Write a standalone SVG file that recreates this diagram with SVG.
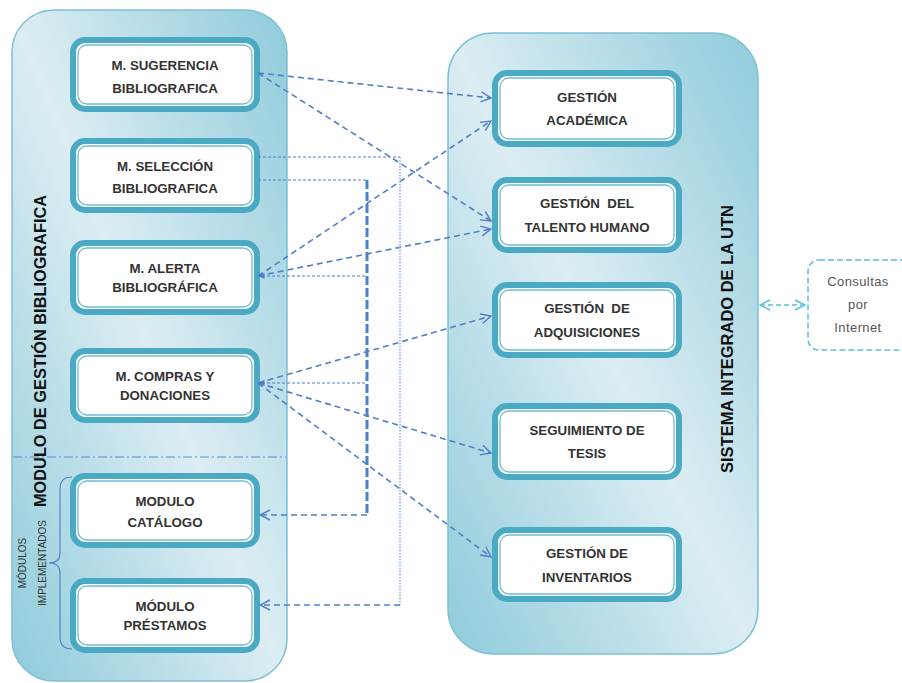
<svg xmlns="http://www.w3.org/2000/svg" width="902" height="683" viewBox="0 0 902 683">
<defs>
<linearGradient id="gc" x1="0" y1="1" x2="1" y2="0">
<stop offset="0" stop-color="#8fcbdb"/>
<stop offset="0.5" stop-color="#dcedf3"/>
<stop offset="1" stop-color="#8fcbdb"/>
</linearGradient>
<marker id="ab" viewBox="0 0 12 12" refX="11" refY="6" markerWidth="12" markerHeight="12" markerUnits="userSpaceOnUse" orient="auto">
<path d="M1,1 L11,6 L1,11" fill="none" stroke="#4f7fc9" stroke-width="1.4"/>
</marker>
<marker id="at" viewBox="0 0 12 12" refX="11" refY="6" markerWidth="12" markerHeight="12" markerUnits="userSpaceOnUse" orient="auto-start-reverse">
<path d="M1,1 L11,6 L1,11" fill="none" stroke="#5bbfd8" stroke-width="1.4"/>
</marker>
<marker id="as" viewBox="0 0 6 6" refX="5.5" refY="3" markerWidth="6" markerHeight="6" markerUnits="userSpaceOnUse" orient="auto">
<path d="M0,0 L6,3 L0,6 Z" fill="#4f7fc9"/>
</marker>
</defs>
<style>
.cont{fill:url(#gc);stroke:#7fc0d3;stroke-width:1.5}
.o{fill:#ffffff;stroke:#4aaac4;stroke-width:6}
.i{fill:#ffffff;stroke:#6fbcd2;stroke-width:1.3}
.t{font-family:"Liberation Sans",Arial,sans-serif;font-weight:bold;font-size:13.3px;fill:#333333;text-anchor:middle}
.v{font-family:"Liberation Sans",Arial,sans-serif;font-weight:bold;font-size:16px;fill:#111;text-anchor:middle}
.s{font-family:"Liberation Sans",Arial,sans-serif;font-size:10px;fill:#333;text-anchor:middle}
.c{font-family:"Liberation Sans",Arial,sans-serif;font-size:13px;letter-spacing:0.4px;fill:#555;text-anchor:middle}
.d{fill:none;stroke:#4f7fc9;stroke-width:1.6;stroke-dasharray:6 4}
.h{fill:none;stroke:#4f7fc9;stroke-width:1.1;stroke-dasharray:3 2}
</style>

<g id="cont-left">
<rect class="cont" x="12" y="10" width="275" height="671" rx="42"/>
<line x1="13" y1="457" x2="286" y2="457" stroke="#5b8bd0" stroke-width="1.2" stroke-dasharray="9 3 2 3"/>
<text class="v" transform="translate(46,351) rotate(-90)" textLength="312" lengthAdjust="spacingAndGlyphs">MODULO DE GESTIÓN BIBLIOGRAFICA</text>
<path d="M72,477 Q60,477 60,489 L60,553 Q60,563 49,563 Q60,563 60,573 L60,637 Q60,649 72,649" fill="none" stroke="#4f7fc9" stroke-width="1.1"/>
<text class="s" transform="translate(25.5,563) rotate(-90)">MÓDULOS</text>
<text class="s" transform="translate(45.5,563) rotate(-90)">IMPLEMENTADOS</text>
</g>

<g id="cont-right">
<rect class="cont" x="448" y="33" width="310" height="621" rx="45"/>
<text class="v" transform="translate(733,339) rotate(-90)" textLength="268" lengthAdjust="spacingAndGlyphs">SISTEMA INTEGRADO DE LA UTN</text>
</g>

<g id="n-sugerencia">
<rect class="o" x="73" y="40" width="184" height="69" rx="12"/>
<rect class="i" x="78" y="45" width="174" height="59" rx="9"/>
<text class="t" x="165" y="70">M. SUGERENCIA</text>
<text class="t" x="165" y="93">BIBLIOGRAFICA</text>
</g>
<g id="n-seleccion">
<rect class="o" x="73" y="141" width="184" height="69" rx="12"/>
<rect class="i" x="78" y="146" width="174" height="59" rx="9"/>
<text class="t" x="165" y="171">M. SELECCIÓN</text>
<text class="t" x="165" y="193">BIBLIOGRAFICA</text>
</g>
<g id="n-alerta">
<rect class="o" x="73" y="243" width="184" height="69" rx="12"/>
<rect class="i" x="78" y="248" width="174" height="59" rx="9"/>
<text class="t" x="165" y="273">M. ALERTA</text>
<text class="t" x="165" y="292">BIBLIOGRÁFICA</text>
</g>
<g id="n-compras">
<rect class="o" x="73" y="351" width="184" height="69" rx="12"/>
<rect class="i" x="78" y="356" width="174" height="59" rx="9"/>
<text class="t" x="165" y="381">M. COMPRAS Y</text>
<text class="t" x="165" y="400">DONACIONES</text>
</g>
<g id="n-catalogo">
<rect class="o" x="73" y="476" width="184" height="69" rx="12"/>
<rect class="i" x="78" y="481" width="174" height="59" rx="9"/>
<text class="t" x="165" y="506">MODULO</text>
<text class="t" x="165" y="527">CATÁLOGO</text>
</g>
<g id="n-prestamos">
<rect class="o" x="73" y="581" width="184" height="69" rx="12"/>
<rect class="i" x="78" y="586" width="174" height="59" rx="9"/>
<text class="t" x="165" y="611">MÓDULO</text>
<text class="t" x="165" y="630">PRÉSTAMOS</text>
</g>

<g id="n-academica">
<rect class="o" x="495" y="73" width="184" height="71" rx="12"/>
<rect class="i" x="500" y="78" width="174" height="61" rx="9"/>
<text class="t" x="587" y="102">GESTIÓN</text>
<text class="t" x="587" y="125">ACADÉMICA</text>
</g>
<g id="n-talento">
<rect class="o" x="495" y="180" width="184" height="70" rx="12"/>
<rect class="i" x="500" y="185" width="174" height="60" rx="9"/>
<text class="t" x="587" y="208" xml:space="preserve">GESTIÓN  DEL</text>
<text class="t" x="587" y="232">TALENTO HUMANO</text>
</g>
<g id="n-adquisiciones">
<rect class="o" x="495" y="285" width="184" height="70" rx="12"/>
<rect class="i" x="500" y="290" width="174" height="60" rx="9"/>
<text class="t" x="587" y="313" xml:space="preserve">GESTIÓN  DE</text>
<text class="t" x="587" y="337">ADQUISICIONES</text>
</g>
<g id="n-tesis">
<rect class="o" x="495" y="406" width="184" height="71" rx="12"/>
<rect class="i" x="500" y="411" width="174" height="61" rx="9"/>
<text class="t" x="587" y="435">SEGUIMIENTO DE</text>
<text class="t" x="587" y="458">TESIS</text>
</g>
<g id="n-inventarios">
<rect class="o" x="495" y="530" width="184" height="69" rx="12"/>
<rect class="i" x="500" y="535" width="174" height="59" rx="9"/>
<text class="t" x="587" y="558">GESTIÓN DE</text>
<text class="t" x="587" y="582">INVENTARIOS</text>
</g>

<g id="n-consultas">
<rect x="808" y="260" width="110" height="90" rx="11" fill="none" stroke="#5bbfd8" stroke-width="1.5" stroke-dasharray="6 3"/>
<text class="c" x="858" y="286">Consultas</text>
<text class="c" x="858" y="309">por</text>
<text class="c" x="858" y="332">Internet</text>
</g>

<g id="connectors">
<line class="d" x1="258" y1="73" x2="491" y2="98" marker-end="url(#ab)"/>
<line class="d" x1="258" y1="73" x2="491" y2="221" marker-end="url(#ab)"/>
<line class="d" x1="258" y1="276" x2="491" y2="121" marker-end="url(#ab)"/>
<line class="d" x1="258" y1="276" x2="491" y2="229" marker-end="url(#ab)"/>
<line class="d" x1="258" y1="383" x2="491" y2="316" marker-end="url(#ab)"/>
<line class="d" x1="258" y1="383" x2="491" y2="453" marker-end="url(#ab)"/>
<line class="d" x1="258" y1="383" x2="491" y2="557" marker-end="url(#ab)"/>
<polyline class="h" points="258,157 400,157"/>
<polyline points="400,157 400,605" fill="none" stroke="#8fb0e2" stroke-width="1.6" stroke-dasharray="1.5 1.5"/>
<polyline class="d" points="400,605 260,605" marker-end="url(#ab)"/>
<polyline class="h" points="258,180 367,180"/>
<polyline points="367,180 367,515" fill="none" stroke="#4f7fc9" stroke-width="3" stroke-dasharray="9 3"/>
<polyline class="d" points="367,515 260,515" marker-end="url(#ab)"/>
<polyline class="h" points="365,276 259,276" marker-end="url(#as)"/>
<polyline class="h" points="365,383 259,383" marker-end="url(#as)"/>
<line x1="760" y1="305" x2="805" y2="305" fill="none" stroke="#5bbfd8" stroke-width="1.5" stroke-dasharray="5 3" marker-start="url(#at)" marker-end="url(#at)"/>
</g>
</svg>
